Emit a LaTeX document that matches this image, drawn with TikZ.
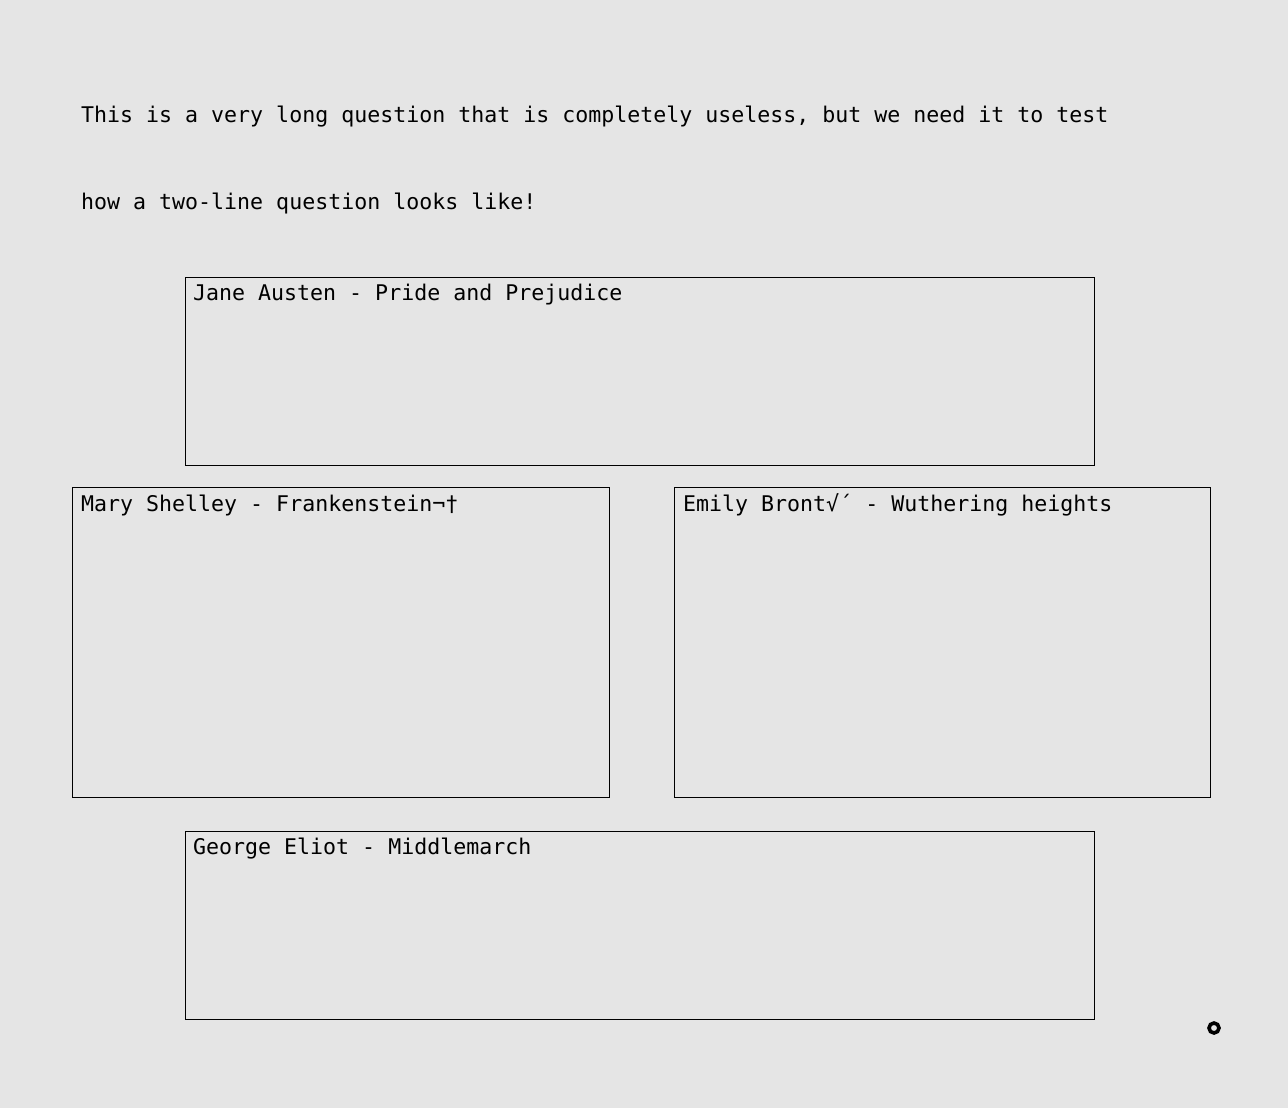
\documentclass[tikz,border=0pt]{standalone}
\usepackage{fontspec}
\setmonofont{DejaVu Sans Mono}
\newfontfamily\qfont{DejaVu Sans Mono}[Scale=1]
\definecolor{bgc}{HTML}{E5E5E5}
\begin{document}
\begin{tikzpicture}[x=1pt,y=-1pt,
  card/.style={draw=black,line width=0.9pt,fill=none,inner sep=0pt,anchor=north west},
  txt/.style={inner sep=0pt,anchor=base west,font=\qfont\fontsize{21.6}{24}\selectfont,text=black}]
\fill[bgc] (0,0) rectangle (1288,1108);
\useasboundingbox (0,0) rectangle (1288,1108);
\node[txt] (q1) at (81,122) {This is a very long question that is completely useless, but we need it to test};
\node[txt] (q2) at (81,209) {how a two-line question looks like!};
\node[card,minimum width=909pt,minimum height=188pt] (jane) at (185,277) {};
\node[card,minimum width=537pt,minimum height=310pt] (mary) at (72,487) {};
\node[card,minimum width=536pt,minimum height=310pt] (emily) at (674,487) {};
\node[card,minimum width=909pt,minimum height=188pt] (george) at (185,831) {};
\node[txt] (tjane) at (193,300) {Jane Austen - Pride and Prejudice};
\node[txt] (tmary) at (81,511) {Mary Shelley - Frankenstein¬†};
\node[txt] (temily) at (683,511) {Emily Bront√´ - Wuthering heights};
\node[txt] (tgeorge) at (193,854) {George Eliot - Middlemarch};
\node[circle,draw=black,line width=3.6pt,minimum size=10pt,inner sep=0pt] (dot) at (1214,1028) {};
\end{tikzpicture}
\end{document}
